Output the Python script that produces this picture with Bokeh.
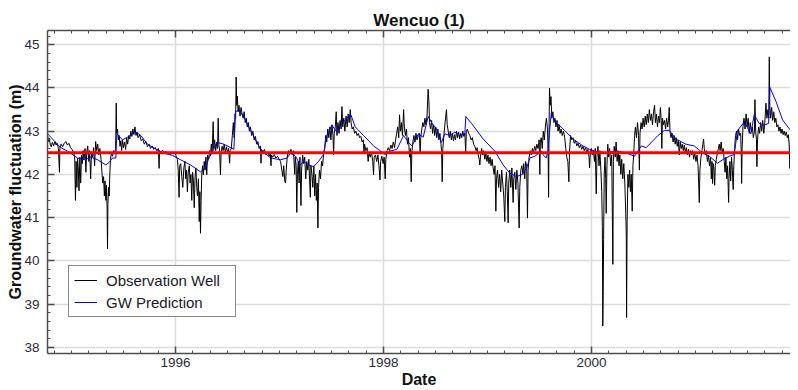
import numpy as np
from bokeh.plotting import figure
from bokeh.models import FixedTicker, LinearAxis, Span, Range1d
from bokeh.embed import file_html
from bokeh.resources import INLINE

# ---------------- data (decimal year, groundwater level in m) ----------------
obs_1995 = [
    (1994.770, 42.90), (1994.778, 42.76), (1994.786, 42.84), (1994.795, 42.70), (1994.805, 42.64),
    (1994.815, 42.74), (1994.828, 42.66), (1994.840, 42.76), (1994.852, 42.68), (1994.862, 42.72),
    (1994.874, 42.60), (1994.884, 42.05), (1994.888, 42.62), (1994.900, 42.70), (1994.915, 42.64),
    (1994.930, 42.72), (1994.945, 42.76), (1994.960, 42.68), (1994.975, 42.72), (1994.990, 42.62),
    (1995.005, 42.58), (1995.020, 42.50), (1995.030, 42.42), (1995.038, 41.40), (1995.044, 42.30),
    (1995.052, 41.70), (1995.058, 42.38), (1995.066, 42.10), (1995.072, 41.62), (1995.080, 42.40),
    (1995.088, 41.80), (1995.096, 42.45), (1995.104, 42.25), (1995.112, 42.55), (1995.120, 42.35),
    (1995.130, 42.60), (1995.138, 42.05), (1995.146, 42.50), (1995.156, 42.66), (1995.166, 42.30),
    (1995.174, 42.55), (1995.184, 41.90), (1995.192, 42.50), (1995.202, 42.40), (1995.212, 42.62),
    (1995.222, 42.20), (1995.232, 42.76), (1995.242, 42.55), (1995.252, 42.70), (1995.262, 42.45),
    (1995.272, 42.60), (1995.284, 42.35), (1995.294, 42.00), (1995.300, 41.80), (1995.308, 41.95),
    (1995.316, 41.50), (1995.322, 41.85), (1995.330, 41.40), (1995.336, 41.75), (1995.342, 41.20),
    (1995.346, 40.28), (1995.350, 41.30), (1995.356, 41.70), (1995.362, 41.50), (1995.368, 42.00),
    (1995.374, 42.35), (1995.384, 42.50), (1995.394, 42.42), (1995.404, 42.55), (1995.414, 42.50),
    (1995.424, 42.60), (1995.430, 43.65), (1995.434, 42.95), (1995.442, 43.05), (1995.450, 42.80),
    (1995.458, 42.90), (1995.466, 42.65), (1995.474, 42.78), (1995.482, 42.55), (1995.490, 42.80),
    (1995.500, 42.62), (1995.510, 42.75), (1995.520, 42.58), (1995.530, 42.85), (1995.540, 42.70),
    (1995.550, 42.90), (1995.560, 42.82), (1995.570, 43.00), (1995.580, 42.88), (1995.590, 43.05),
    (1995.600, 42.92), (1995.610, 43.10), (1995.620, 42.90), (1995.630, 42.98), (1995.640, 42.85),
    (1995.655, 42.92), (1995.670, 42.78), (1995.685, 42.82), (1995.700, 42.70), (1995.715, 42.76),
    (1995.730, 42.64), (1995.745, 42.70), (1995.760, 42.60), (1995.775, 42.66), (1995.790, 42.58),
    (1995.805, 42.62), (1995.820, 42.55), (1995.835, 42.60), (1995.842, 42.14), (1995.846, 42.55),
    (1995.860, 42.52), (1995.875, 42.56), (1995.890, 42.50), (1995.905, 42.54), (1995.920, 42.48),
    (1995.935, 42.52), (1995.950, 42.46), (1995.965, 42.50),
]
obs_1996 = [
    (1995.980, 42.48), (1995.995, 42.52), (1996.008, 42.40), (1996.018, 42.35), (1996.026, 42.10),
    (1996.034, 41.47), (1996.040, 42.20), (1996.050, 42.25), (1996.060, 41.95), (1996.070, 41.70),
    (1996.080, 42.15), (1996.090, 42.30), (1996.098, 41.90), (1996.106, 42.10), (1996.114, 41.60),
    (1996.122, 42.05), (1996.132, 42.20), (1996.140, 41.80), (1996.148, 42.00), (1996.156, 41.40),
    (1996.164, 42.05), (1996.172, 41.85), (1996.180, 41.23), (1996.188, 41.95), (1996.196, 42.15),
    (1996.204, 41.70), (1996.212, 41.50), (1996.220, 41.90), (1996.228, 40.91), (1996.234, 41.60),
    (1996.240, 40.64), (1996.246, 41.40), (1996.252, 42.00), (1996.260, 42.20), (1996.268, 41.99),
    (1996.276, 42.30), (1996.284, 42.10), (1996.292, 42.40), (1996.300, 41.99), (1996.308, 42.45),
    (1996.318, 42.35), (1996.328, 42.55), (1996.336, 42.45), (1996.344, 42.70), (1996.352, 42.50),
    (1996.362, 43.22), (1996.368, 42.60), (1996.376, 42.80), (1996.386, 42.55), (1996.396, 42.75),
    (1996.404, 42.60), (1996.410, 43.30), (1996.416, 42.70), (1996.424, 42.55), (1996.432, 41.99),
    (1996.438, 42.50), (1996.448, 42.65), (1996.458, 42.55), (1996.468, 42.70), (1996.478, 42.52),
    (1996.490, 42.64), (1996.500, 42.50), (1996.510, 42.60), (1996.520, 42.26), (1996.526, 42.55),
    (1996.536, 42.60), (1996.546, 42.90), (1996.556, 43.20), (1996.564, 42.85), (1996.572, 43.40),
    (1996.578, 43.30), (1996.583, 44.25), (1996.588, 43.60), (1996.594, 43.81), (1996.602, 43.45),
    (1996.610, 43.60), (1996.620, 43.35), (1996.630, 43.55), (1996.640, 43.40), (1996.650, 43.30),
    (1996.660, 43.45), (1996.670, 43.20), (1996.680, 43.30), (1996.690, 43.10), (1996.700, 43.20),
    (1996.710, 43.00), (1996.720, 43.10), (1996.732, 42.90), (1996.744, 43.00), (1996.756, 42.80),
    (1996.768, 42.88), (1996.780, 42.70), (1996.792, 42.76), (1996.804, 42.60), (1996.816, 42.66),
    (1996.822, 42.26), (1996.826, 42.58), (1996.840, 42.52), (1996.855, 42.58), (1996.870, 42.45),
    (1996.885, 42.52), (1996.900, 42.42), (1996.912, 42.48), (1996.918, 42.20), (1996.922, 42.45),
    (1996.935, 42.40), (1996.950, 42.46), (1996.965, 42.38), (1996.980, 42.42), (1996.995, 42.36),
    (1997.010, 42.30), (1997.022, 42.10), (1997.032, 41.95), (1997.040, 42.20), (1997.050, 41.85),
    (1997.058, 41.80), (1997.064, 42.10), (1997.074, 42.40), (1997.086, 42.55), (1997.098, 42.50),
    (1997.110, 42.58), (1997.122, 42.45), (1997.134, 42.55), (1997.146, 42.00), (1997.152, 42.40),
]
obs_1997 = [
    (1997.160, 42.20), (1997.166, 41.12), (1997.172, 42.00), (1997.180, 42.30), (1997.188, 41.80),
    (1997.196, 42.40), (1997.206, 41.28), (1997.212, 42.10), (1997.222, 42.45), (1997.232, 42.25),
    (1997.242, 42.40), (1997.252, 41.90), (1997.262, 42.30), (1997.272, 42.10), (1997.282, 42.35),
    (1997.290, 41.80), (1997.296, 41.47), (1997.302, 42.20), (1997.312, 42.00), (1997.320, 41.70),
    (1997.330, 42.20), (1997.338, 41.50), (1997.346, 42.00), (1997.354, 41.40), (1997.362, 41.80),
    (1997.369, 40.76), (1997.375, 41.70), (1997.384, 42.10), (1997.394, 41.90), (1997.404, 42.30),
    (1997.414, 42.20), (1997.424, 42.50), (1997.434, 42.60), (1997.444, 42.90), (1997.454, 42.75),
    (1997.464, 43.05), (1997.474, 42.85), (1997.484, 43.10), (1997.494, 42.80), (1997.504, 43.15),
    (1997.514, 42.90), (1997.520, 42.45), (1997.526, 42.95), (1997.536, 43.10), (1997.545, 43.45),
    (1997.552, 42.90), (1997.562, 43.20), (1997.572, 42.95), (1997.582, 43.25), (1997.592, 43.05),
    (1997.600, 43.57), (1997.608, 43.10), (1997.618, 43.30), (1997.628, 43.00), (1997.640, 43.35),
    (1997.650, 43.10), (1997.660, 43.40), (1997.670, 43.20), (1997.680, 43.50), (1997.688, 43.20),
    (1997.698, 43.05), (1997.710, 43.10), (1997.722, 42.95), (1997.734, 43.00), (1997.746, 42.90),
    (1997.758, 42.95), (1997.770, 42.85), (1997.782, 42.88), (1997.794, 42.75), (1997.806, 42.80),
    (1997.812, 42.50), (1997.818, 42.70), (1997.830, 42.55), (1997.842, 42.62), (1997.852, 42.30),
    (1997.860, 42.50), (1997.872, 42.40), (1997.884, 42.52), (1997.896, 42.30), (1997.904, 41.99),
    (1997.910, 42.40), (1997.922, 42.45), (1997.934, 42.30), (1997.946, 42.45), (1997.956, 42.20),
    (1997.966, 41.87), (1997.972, 42.30), (1997.984, 42.42), (1997.996, 42.25), (1998.006, 42.40),
    (1998.016, 41.90), (1998.022, 42.35), (1998.034, 42.55), (1998.046, 42.62), (1998.058, 42.55),
    (1998.070, 42.68), (1998.082, 42.60), (1998.094, 42.75), (1998.106, 42.62), (1998.116, 42.80),
    (1998.126, 42.95), (1998.136, 43.10), (1998.146, 42.85), (1998.154, 43.38), (1998.162, 43.00),
    (1998.172, 43.20), (1998.182, 42.90), (1998.193, 43.50), (1998.200, 43.10), (1998.210, 42.90),
    (1998.220, 43.05), (1998.230, 42.70), (1998.240, 42.85), (1998.250, 42.40), (1998.258, 42.60),
    (1998.266, 41.83), (1998.272, 42.50), (1998.282, 42.75), (1998.292, 42.90), (1998.302, 42.75),
    (1998.312, 42.95), (1998.322, 42.80), (1998.334, 42.90),
]
obs_1998 = [
    (1998.344, 42.95), (1998.352, 42.50), (1998.358, 42.85), (1998.368, 43.05), (1998.378, 43.20),
    (1998.388, 43.10), (1998.398, 43.30), (1998.408, 43.15), (1998.418, 43.35), (1998.429, 43.97),
    (1998.436, 43.70), (1998.442, 43.20), (1998.452, 43.05), (1998.462, 43.25), (1998.472, 42.95),
    (1998.482, 43.15), (1998.492, 42.90), (1998.502, 43.10), (1998.512, 42.85), (1998.522, 43.05),
    (1998.532, 42.80), (1998.542, 42.95), (1998.552, 42.70), (1998.558, 42.55), (1998.564, 41.83),
    (1998.570, 42.60), (1998.580, 42.90), (1998.592, 43.20), (1998.605, 43.50), (1998.612, 43.15),
    (1998.622, 43.00), (1998.632, 42.85), (1998.642, 43.00), (1998.652, 42.80), (1998.662, 42.95),
    (1998.672, 42.78), (1998.682, 42.92), (1998.692, 42.80), (1998.702, 43.00), (1998.712, 42.85),
    (1998.722, 42.98), (1998.732, 42.82), (1998.742, 42.95), (1998.752, 42.85), (1998.762, 43.00),
    (1998.772, 42.88), (1998.782, 42.95), (1998.790, 42.50), (1998.796, 43.00), (1998.806, 43.05),
    (1998.818, 42.95), (1998.830, 42.90), (1998.842, 42.80), (1998.854, 42.85), (1998.866, 42.70),
    (1998.878, 42.65), (1998.890, 42.55), (1998.900, 42.62), (1998.910, 42.45), (1998.920, 42.35),
    (1998.926, 42.22), (1998.932, 42.40), (1998.944, 42.60), (1998.954, 42.45), (1998.964, 42.55),
    (1998.974, 42.35), (1998.984, 42.50), (1998.994, 42.30), (1999.004, 42.45), (1999.014, 42.25),
    (1999.024, 42.40), (1999.034, 42.20), (1999.044, 42.35), (1999.054, 42.15), (1999.064, 42.00),
    (1999.072, 42.20), (1999.080, 41.15), (1999.086, 41.90), (1999.096, 42.10), (1999.106, 41.70),
    (1999.116, 42.00), (1999.126, 41.60), (1999.136, 42.10), (1999.146, 41.80), (1999.156, 41.50),
    (1999.166, 40.91), (1999.172, 41.70), (1999.182, 42.05), (1999.190, 41.60), (1999.198, 40.88),
    (1999.204, 41.80), (1999.214, 42.10), (1999.224, 41.70), (1999.234, 42.15), (1999.246, 41.35),
    (1999.252, 41.90), (1999.262, 42.05), (1999.272, 41.65), (1999.282, 42.10), (1999.292, 41.80),
    (1999.304, 40.76), (1999.310, 41.70), (1999.320, 42.10), (1999.330, 42.20), (1999.340, 42.00),
    (1999.348, 42.25), (1999.358, 41.90), (1999.366, 42.30), (1999.376, 42.20), (1999.384, 40.99),
    (1999.390, 42.10), (1999.400, 42.40), (1999.410, 42.55), (1999.420, 42.45), (1999.432, 42.60),
    (1999.442, 42.50), (1999.454, 42.65), (1999.464, 42.55), (1999.474, 42.70), (1999.486, 42.60),
    (1999.496, 42.80), (1999.503, 42.00), (1999.508, 42.75),
]
obs_2000 = [
    (1999.516, 42.85), (1999.526, 42.60), (1999.536, 43.00), (1999.546, 42.80), (1999.556, 43.10),
    (1999.566, 43.30), (1999.576, 43.05), (1999.582, 42.60), (1999.587, 41.47), (1999.592, 43.20),
    (1999.596, 44.00), (1999.602, 43.60), (1999.610, 43.80), (1999.618, 43.30), (1999.628, 43.45),
    (1999.638, 43.20), (1999.648, 43.30), (1999.658, 43.10), (1999.668, 43.25), (1999.678, 43.00),
    (1999.688, 43.15), (1999.698, 42.95), (1999.708, 43.05), (1999.718, 42.90), (1999.730, 43.00),
    (1999.742, 42.85), (1999.752, 42.60), (1999.762, 42.40), (1999.772, 42.30), (1999.782, 41.83),
    (1999.788, 42.50), (1999.798, 42.90), (1999.810, 42.80), (1999.822, 42.85), (1999.834, 42.72),
    (1999.846, 42.78), (1999.858, 42.66), (1999.870, 42.72), (1999.882, 42.62), (1999.894, 42.68),
    (1999.906, 42.58), (1999.918, 42.65), (1999.930, 42.55), (1999.942, 42.62), (1999.954, 42.52),
    (1999.966, 42.58), (1999.976, 42.40), (1999.981, 42.15), (1999.988, 42.50), (1999.998, 42.60),
    (2000.008, 42.45), (2000.018, 42.55), (2000.028, 42.30), (2000.036, 42.60), (2000.045, 41.55),
    (2000.052, 42.40), (2000.062, 42.65), (2000.072, 42.20), (2000.080, 42.55), (2000.090, 42.10),
    (2000.098, 41.60), (2000.104, 40.80), (2000.108, 38.49), (2000.112, 39.20), (2000.116, 40.50),
    (2000.122, 42.00), (2000.130, 42.40), (2000.136, 41.90), (2000.141, 41.10), (2000.148, 42.20),
    (2000.156, 42.70), (2000.164, 42.40), (2000.174, 42.60), (2000.184, 42.20), (2000.194, 42.45),
    (2000.205, 39.92), (2000.210, 42.30), (2000.218, 42.65), (2000.228, 42.40), (2000.236, 42.75),
    (2000.246, 42.30), (2000.256, 42.55), (2000.264, 42.20), (2000.272, 42.45), (2000.282, 42.00),
    (2000.290, 42.35), (2000.300, 41.90), (2000.310, 42.25), (2000.320, 41.80), (2000.328, 41.20),
    (2000.334, 40.60), (2000.337, 38.69), (2000.342, 40.90), (2000.350, 42.00), (2000.358, 41.70),
    (2000.366, 42.10), (2000.374, 41.60), (2000.382, 42.00), (2000.391, 41.15), (2000.398, 42.20),
    (2000.406, 42.50), (2000.414, 42.90), (2000.422, 43.10), (2000.432, 42.85), (2000.442, 43.20),
    (2000.452, 42.90), (2000.460, 42.10), (2000.466, 42.95), (2000.476, 43.20), (2000.486, 43.05),
    (2000.496, 43.30), (2000.506, 43.10), (2000.516, 43.35), (2000.526, 43.15), (2000.536, 43.40),
    (2000.546, 43.20), (2000.556, 43.50), (2000.566, 43.25), (2000.576, 43.40), (2000.586, 43.15),
    (2000.596, 43.45), (2000.606, 43.60), (2000.614, 43.20), (2000.624, 43.40), (2000.634, 43.10),
    (2000.644, 43.35), (2000.654, 43.20), (2000.662, 43.55), (2000.670, 43.25), (2000.676, 42.60),
    (2000.682, 43.30), (2000.692, 43.15), (2000.702, 43.25),
]
obs_2001 = [
    (2000.712, 43.05), (2000.722, 43.30), (2000.732, 43.10), (2000.740, 43.25), (2000.747, 43.55),
    (2000.754, 43.00), (2000.764, 42.85), (2000.774, 42.95), (2000.784, 42.75), (2000.794, 42.90),
    (2000.804, 42.70), (2000.814, 42.85), (2000.824, 42.65), (2000.834, 42.80), (2000.844, 42.45),
    (2000.852, 42.75), (2000.862, 42.60), (2000.872, 42.70), (2000.882, 42.55), (2000.892, 42.68),
    (2000.902, 42.50), (2000.912, 42.62), (2000.922, 42.45), (2000.932, 42.58), (2000.942, 42.40),
    (2000.952, 42.55), (2000.962, 42.45), (2000.972, 42.55), (2000.982, 42.35), (2000.992, 42.50),
    (2001.004, 42.30), (2001.014, 42.45), (2001.024, 42.20), (2001.030, 41.80), (2001.036, 41.35),
    (2001.042, 42.10), (2001.052, 42.40), (2001.062, 42.55), (2001.070, 42.70), (2001.077, 42.82),
    (2001.084, 42.60), (2001.094, 42.45), (2001.104, 42.55), (2001.114, 42.30), (2001.124, 42.45),
    (2001.134, 42.20), (2001.144, 42.40), (2001.152, 41.90), (2001.158, 42.30), (2001.164, 41.79),
    (2001.170, 42.25), (2001.178, 42.10), (2001.184, 41.75), (2001.190, 42.20), (2001.200, 42.35),
    (2001.210, 42.50), (2001.220, 42.60), (2001.228, 42.70), (2001.236, 42.55), (2001.246, 42.75),
    (2001.256, 42.50), (2001.266, 42.60), (2001.276, 42.30), (2001.284, 42.05), (2001.292, 42.40),
    (2001.300, 41.90), (2001.308, 42.20), (2001.314, 41.70), (2001.318, 41.35), (2001.322, 41.90),
    (2001.330, 42.30), (2001.338, 41.85), (2001.346, 42.40), (2001.354, 42.10), (2001.362, 41.65),
    (2001.368, 42.20), (2001.376, 42.60), (2001.384, 42.90), (2001.394, 43.00), (2001.404, 42.80),
    (2001.414, 43.05), (2001.424, 42.90), (2001.434, 42.95), (2001.440, 42.40), (2001.443, 41.79),
    (2001.448, 42.60), (2001.456, 43.10), (2001.466, 43.30), (2001.476, 43.05), (2001.486, 43.40),
    (2001.496, 43.10), (2001.506, 43.30), (2001.516, 42.95), (2001.526, 43.20), (2001.536, 42.98),
    (2001.546, 43.10), (2001.556, 42.85), (2001.566, 43.00), (2001.571, 43.73), (2001.578, 43.00),
    (2001.586, 42.80), (2001.590, 42.18), (2001.596, 42.80), (2001.606, 43.10), (2001.616, 42.95),
    (2001.626, 43.20), (2001.636, 43.00), (2001.646, 43.25), (2001.656, 42.95), (2001.666, 43.20),
    (2001.677, 43.65), (2001.686, 43.30), (2001.696, 43.50), (2001.704, 43.30), (2001.709, 44.72),
    (2001.714, 43.60), (2001.722, 43.30), (2001.732, 43.55), (2001.742, 43.25), (2001.752, 43.45),
    (2001.762, 43.20), (2001.772, 43.30), (2001.782, 43.10), (2001.792, 43.15), (2001.802, 43.00),
    (2001.812, 43.10), (2001.822, 42.95), (2001.832, 43.05), (2001.842, 42.92), (2001.852, 43.00),
    (2001.862, 42.90), (2001.872, 42.98), (2001.882, 42.85), (2001.892, 42.92), (2001.900, 42.70),
    (2001.907, 42.14), (2001.912, 42.80),
]

pred_1995 = [
    (1994.769, 42.94), (1994.833, 42.78), (1994.897, 42.62), (1994.961, 42.54), (1995.058, 42.38),
    (1995.122, 42.34), (1995.186, 42.40), (1995.250, 42.34), (1995.330, 42.22), (1995.362, 42.28),
    (1995.394, 42.38), (1995.426, 42.38), (1995.436, 42.94), (1995.490, 42.80), (1995.538, 42.86),
    (1995.618, 42.98), (1995.666, 42.90), (1995.730, 42.70), (1995.875, 42.50), (1995.970, 42.44),
]
pred_1996 = [
    (1996.048, 42.34), (1996.144, 42.22), (1996.240, 42.06), (1996.288, 42.14), (1996.320, 42.38),
    (1996.352, 42.50), (1996.400, 42.74), (1996.465, 42.70), (1996.561, 42.58), (1996.577, 43.45),
    (1996.609, 43.49), (1996.657, 43.33), (1996.721, 43.02), (1996.817, 42.58), (1996.914, 42.38),
    (1997.010, 42.34), (1997.074, 42.38), (1997.106, 42.50), (1997.154, 42.42),
]
pred_1997 = [
    (1997.199, 42.22), (1997.231, 42.30), (1997.279, 42.22), (1997.327, 42.18), (1997.375, 42.30),
    (1997.423, 42.46), (1997.455, 42.90), (1997.503, 43.14), (1997.552, 42.98), (1997.600, 43.18),
    (1997.648, 43.30), (1997.686, 43.38), (1997.728, 43.10), (1997.808, 42.90), (1997.904, 42.66),
    (1998.016, 42.46), (1998.064, 42.54), (1998.128, 42.58), (1998.193, 42.90), (1998.240, 42.74),
    (1998.273, 42.66), (1998.337, 42.94),
]
pred_1998 = [
    (1998.381, 42.86), (1998.429, 43.34), (1998.477, 43.14), (1998.509, 43.06), (1998.557, 42.74),
    (1998.589, 42.94), (1998.637, 42.90), (1998.686, 42.98), (1998.734, 42.90), (1998.782, 42.94),
    (1998.791, 43.34), (1998.846, 43.18), (1998.958, 42.82), (1999.070, 42.54), (1999.150, 42.22),
    (1999.214, 42.03), (1999.279, 41.95), (1999.327, 41.99), (1999.375, 42.14), (1999.407, 42.38),
    (1999.455, 42.42), (1999.519, 42.54),
]
pred_2000 = [
    (1999.532, 42.46), (1999.564, 42.38), (1999.580, 42.54), (1999.612, 43.41), (1999.660, 43.21),
    (1999.740, 43.02), (1999.821, 42.82), (1999.917, 42.66), (1999.981, 42.58), (2000.029, 42.54),
    (2000.141, 42.50), (2000.237, 42.54), (2000.333, 42.50), (2000.413, 42.42), (2000.446, 42.54),
    (2000.478, 42.66), (2000.526, 42.62), (2000.606, 42.82), (2000.638, 42.90), (2000.702, 43.02),
]
pred_2001 = [
    (2000.747, 43.02), (2000.811, 42.82), (2000.907, 42.70), (2000.987, 42.66), (2001.068, 42.50),
    (2001.132, 42.42), (2001.212, 42.26), (2001.260, 42.34), (2001.324, 42.42), (2001.372, 42.46),
    (2001.404, 43.02), (2001.468, 43.21), (2001.532, 42.94), (2001.564, 43.38), (2001.612, 43.18),
    (2001.660, 43.14), (2001.702, 43.18), (2001.715, 44.01), (2001.773, 43.69), (2001.837, 43.26),
    (2001.913, 43.02),
]

reference_level = 42.5
x_major_ticks = [1996, 1998, 2000]
y_major_ticks = [38, 39, 40, 41, 42, 43, 44, 45]
title_text = "Wencuo (1)"
x_label = "Date"
y_label = "Groundwater fluctuation (m)"
series_names = ["Observation Well", "GW Prediction"]

obs = obs_1995 + obs_1996 + obs_1997 + obs_1998 + obs_2000 + obs_2001
pred = pred_1995 + pred_1996 + pred_1997 + pred_1998 + pred_2000 + pred_2001
obs_x = [a for a, b in obs]
obs_y = [b for a, b in obs]
pred_x = [a for a, b in pred]
pred_y = [b for a, b in pred]

# ---------------- figure ----------------
p = figure(width=790, height=390, output_backend="svg", toolbar_location=None,
           x_range=Range1d(1994.769, 2001.913), y_range=Range1d(37.857, 45.33),
           title=title_text, min_border_left=47, min_border_right=0,
           min_border_top=30, min_border_bottom=0)
p.title.align = "center"
p.title.text_font = "Liberation Sans"
p.title.text_font_size = "17px"
p.title.text_font_style = "bold"
p.title.text_color = "#111111"
p.title.standoff = 2
p.title.offset = 0
p.outline_line_color = None
p.background_fill_color = "white"

x_minor = list(np.round(np.arange(1994 + 4 / 6, 2002.0, 1 / 6), 4))
y_minor = list(np.round(np.arange(37.8, 45.4, 0.2), 2))
xt = FixedTicker(ticks=x_major_ticks, minor_ticks=x_minor)
yt = FixedTicker(ticks=y_major_ticks, minor_ticks=y_minor)

axis_color = "#4d4d4d"
for ax in (p.xaxis[0], p.yaxis[0]):
    ax.ticker = xt if ax is p.xaxis[0] else yt
    ax.axis_line_color = axis_color
    ax.axis_line_width = 1.5
    ax.major_tick_line_color = axis_color
    ax.minor_tick_line_color = axis_color
    ax.major_tick_line_width = 1.5
    ax.major_tick_in = 7
    ax.major_tick_out = 0
    ax.minor_tick_in = 3
    ax.minor_tick_out = 0
    ax.major_label_text_font = "Liberation Sans"
    ax.major_label_text_font_size = "13.5px"
    ax.major_label_text_color = "#2a2a3a"
    ax.axis_label_text_font = "Liberation Sans"
    ax.axis_label_text_font_size = "16px"
    ax.axis_label_text_font_style = "bold"
    ax.axis_label_text_color = "#111111"

p.xaxis.axis_label = x_label
p.yaxis.axis_label = y_label
p.xaxis.major_label_standoff = 4
p.xaxis.axis_label_standoff = 1
p.yaxis.major_label_standoff = 8
p.yaxis.axis_label_standoff = -3

top = LinearAxis(ticker=xt, major_label_overrides={t: "" for t in x_major_ticks},
                 major_label_standoff=0,
                 axis_line_color=axis_color, axis_line_width=1.5,
                 major_tick_line_color=axis_color, minor_tick_line_color=axis_color,
                 major_tick_line_width=1.5, major_tick_in=7, major_tick_out=0,
                 minor_tick_in=3, minor_tick_out=0)
p.add_layout(top, "above")

p.xgrid.ticker = xt
p.ygrid.ticker = yt
for g in (p.xgrid[0], p.ygrid[0]):
    g.grid_line_color = "#dcdcdc"
    g.grid_line_width = 1.5

p.line(obs_x, obs_y, line_color="black", line_width=1, legend_label=series_names[0])
p.line(pred_x, pred_y, line_color="#0000ff", line_width=1, legend_label=series_names[1])
p.add_layout(Span(location=reference_level, dimension="width", line_color="#ff0000", line_width=3))

lg = p.legend[0]
lg.location = (21, 36)
lg.label_text_font = "Liberation Sans"
lg.label_text_font_size = "15px"
lg.label_text_color = "#1a1a2a"
lg.glyph_width = 23
lg.glyph_height = 18
lg.label_height = 18
lg.label_standoff = 9
lg.label_width = 124
lg.padding = 5
lg.spacing = 4
lg.margin = 0
lg.border_line_color = "#111111"
lg.border_line_width = 1.5
lg.background_fill_alpha = 1.0

open("out.html", "w").write(file_html(p, INLINE))
